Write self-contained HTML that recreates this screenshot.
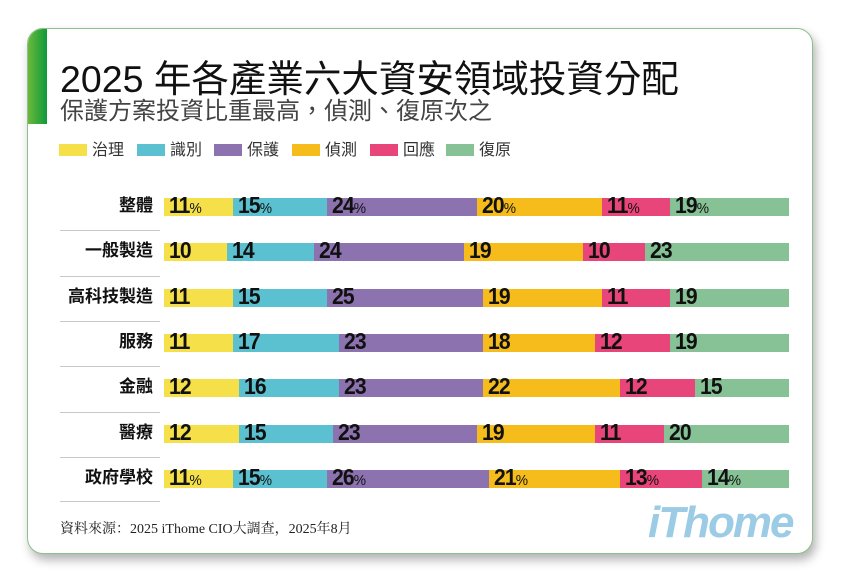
<!DOCTYPE html>
<html><head><meta charset="utf-8"><style>
*{margin:0;padding:0;box-sizing:border-box}
body{width:841px;height:583px;background:#fff;position:relative;overflow:hidden;font-family:"Liberation Sans","Noto Sans CJK TC",sans-serif}
.card{position:absolute;left:27px;top:28px;width:786px;height:526px;border:1px solid #8cc08c;border-radius:16px;background:#fff;box-shadow:3px 6px 10px rgba(0,0,0,.3);overflow:hidden}
.accent{position:absolute;left:0;top:0;width:19px;height:95px;background:linear-gradient(90deg,#6ab83a,#0f9a3a)}
.t{position:absolute;left:60px;top:48px;font-size:37.5px;color:#111;white-space:nowrap;font-weight:normal}
.st{position:absolute;left:60px;top:91px;font-size:24px;color:#444;white-space:nowrap}
.lg{position:absolute;top:144px;font-size:16px;color:#333;white-space:nowrap;line-height:14px}
.lg i{display:inline-block;width:28px;height:12px;vertical-align:top;margin-right:5px}
.lab{position:absolute;left:40px;width:113px;text-align:right;font-weight:bold;font-size:17px;line-height:18px;color:#111}
.sep{position:absolute;left:60px;width:100px;height:1px;background:#c8c8c8}
.bar{position:absolute;left:164px;width:625px;height:18px;display:flex}
.bar div{height:18px;position:relative}
.bar span{position:absolute;left:5px;top:-4px;font-size:23px;line-height:23px;font-weight:bold;color:#111;white-space:nowrap;letter-spacing:-1px;transform:scaleX(0.92);transform-origin:left}
.bar span small{font-size:15px;font-weight:normal;letter-spacing:0}
.foot{position:absolute;left:60px;top:518px;font-family:"Liberation Serif","Noto Serif CJK SC",serif;font-size:14px;color:#222}
.logo{position:absolute;left:648px;top:498px;font-size:44px;font-style:italic;font-weight:bold;color:#9ccbe6;letter-spacing:-2px}
</style></head><body>
<div class="card"><div class="accent"></div></div>
<div class="t">2025 年各產業六大資安領域投資分配</div>
<div class="st">保護方案投資比重最高，偵測、復原次之</div>
<div class="lg" style="left:59px"><i style="background:#f5e04a"></i>治理</div>
<div class="lg" style="left:137px"><i style="background:#5bc0d0"></i>識別</div>
<div class="lg" style="left:214px"><i style="background:#8c73b0"></i>保護</div>
<div class="lg" style="left:292px"><i style="background:#f5bc1c"></i>偵測</div>
<div class="lg" style="left:370px"><i style="background:#e8457a"></i>回應</div>
<div class="lg" style="left:446px"><i style="background:#86c295"></i>復原</div>
<div id="rows"></div>
<div class="foot">資料來源：2025 iThome CIO大調查，2025年8月</div>
<div class="logo">iThome</div>
<script>
var cols=["#f5e04a","#5bc0d0","#8c73b0","#f5bc1c","#e8457a","#86c295"];
var d=[["整體",[11,15,24,20,11,19],1],["一般製造",[10,14,24,19,10,23],0],["高科技製造",[11,15,25,19,11,19],0],["服務",[11,17,23,18,12,19],0],["金融",[12,16,23,22,12,15],0],["醫療",[12,15,23,19,11,20],0],["政府學校",[11,15,26,21,13,14],1]];
var h="";
d.forEach(function(r,i){var y=198+i*45.3;
h+='<div class="lab" style="top:'+(y-1)+'px">'+r[0]+'</div>';
if(i>0)h+='<div class="sep" style="top:'+(y-13)+'px"></div>';
var s=r[1].reduce(function(a,b){return a+b},0);
h+='<div class="bar" style="top:'+y+'px">';
r[1].forEach(function(v,j){h+='<div style="width:'+(v/s*625)+'px;background:'+cols[j]+'"><span>'+v+(r[2]?'<small>%</small>':'')+'</span></div>'});
h+='</div>';});
h+='<div class="sep" style="top:501px"></div>';
document.getElementById("rows").innerHTML=h;
</script>
</body></html>
